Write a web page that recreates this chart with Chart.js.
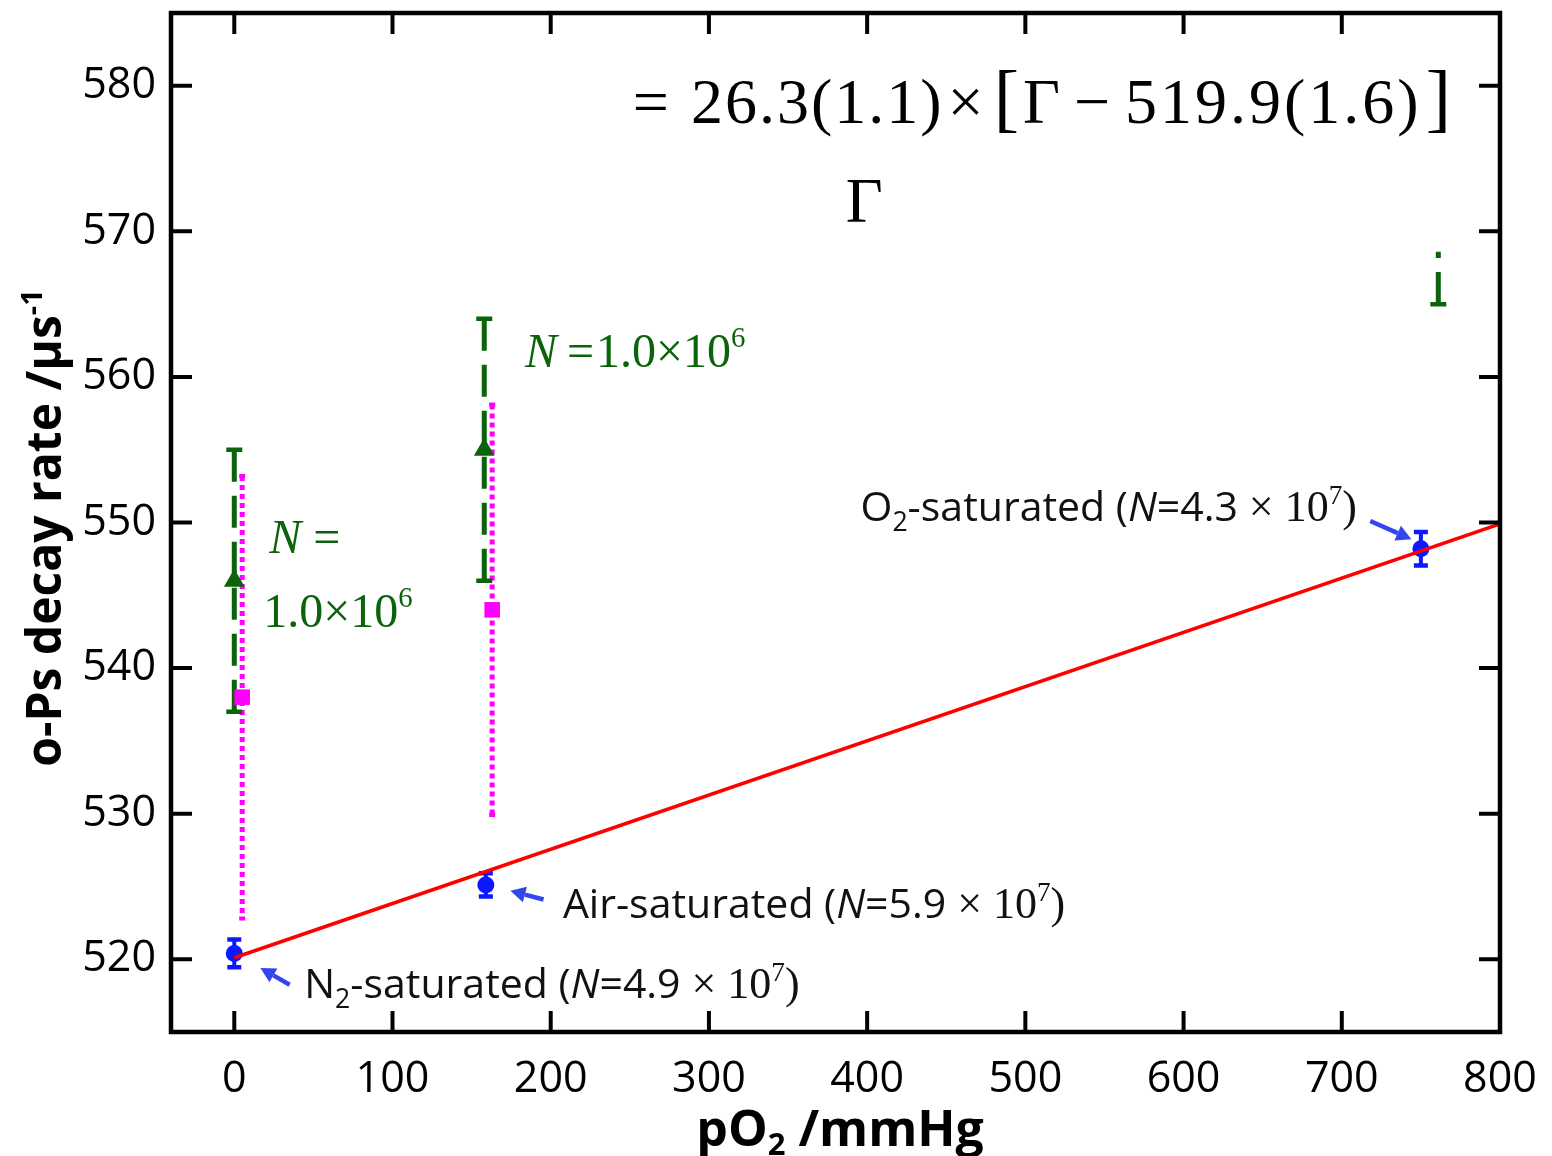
<!DOCTYPE html>
<html>
<head>
<meta charset="utf-8">
<script src="https://cdn.jsdelivr.net/npm/chart.js@4.4.1/dist/chart.umd.min.js"></script>
<style>
  html, body { margin: 0; padding: 0; background: #fff; }
  #wrap { width: 1552px; height: 1156px; }
</style>
</head>
<body>
<div id="wrap"><canvas id="c" width="1552" height="1156"></canvas></div>
<script>
// o-Ps decay rate against oxygen partial pressure

const xTickValues = [0, 100, 200, 300, 400, 500, 600, 700, 800];
const yTickValues = [520, 530, 540, 550, 560, 570, 580];

// long runs (N ~ 10^7): N2-, air- and O2-saturated water
const satX   = [0, 159, 750];
const satY   = [520.4, 525.1, 548.2];
const satErr = [0.95, 0.8, 1.15];

// short runs (N = 1.0e6), first analysis
const shortAX   = [0, 158, 761];
const shortAY   = [546, 555, 574];
const shortAErr = [9, 9, 9];

// short runs (N = 1.0e6), second analysis
const shortBX   = [5, 163];
const shortBY   = [538, 544];
const shortBErr = [15.2, 14.1];

// linear calibration line
const fitX = [0, 800];
const fitY = [520.1, 549.9];

const SANS = "'Open Sans', 'Noto Sans', sans-serif";
const SERIF = "'Liberation Serif', 'DejaVu Serif', serif";
const BLUE = '#0c18ff';
const GREEN = '#0b640b';
const MAGENTA = '#ff00ff';
const ARROW = '#3346ee';

const pts = (xs, ys) => xs.map((x, i) => ({ x, y: ys[i] }));

// draws a run of text pieces with their own fonts, spacing and vertical offsets
function richText(ctx, x, y, segs, color) {
  let cx = x;
  for (const s of segs) {
    ctx.font = s.f;
    ctx.letterSpacing = (s.ls || 0) + 'px';
    ctx.fillStyle = s.c || color;
    cx += s.gap || 0;
    ctx.fillText(s.t, cx, y + (s.dy || 0));
    cx += ctx.measureText(s.t).width;
  }
  ctx.letterSpacing = '0px';
  return cx;
}
function richWidth(ctx, segs) {
  let w = 0;
  for (const s of segs) {
    ctx.font = s.f;
    ctx.letterSpacing = (s.ls || 0) + 'px';
    w += (s.gap || 0) + ctx.measureText(s.t).width;
  }
  ctx.letterSpacing = '0px';
  return w;
}

function errorBars(ctx, xs_, ys_, xs, ys, errs, opt) {
  ctx.save();
  ctx.strokeStyle = opt.color;
  ctx.lineCap = 'butt';
  xs.forEach((xv, i) => {
    const px = xs_.getPixelForValue(xv);
    const top = ys_.getPixelForValue(ys[i] + errs[i]);
    const bot = ys_.getPixelForValue(ys[i] - errs[i]);
    ctx.lineWidth = opt.width;
    ctx.setLineDash(opt.dash || []);
    ctx.beginPath(); ctx.moveTo(px, top); ctx.lineTo(px, bot); ctx.stroke();
    ctx.setLineDash([]);
    ctx.lineWidth = opt.capWidth;
    ctx.beginPath();
    ctx.moveTo(px - opt.cap, top); ctx.lineTo(px + opt.cap, top);
    ctx.moveTo(px - opt.cap, bot); ctx.lineTo(px + opt.cap, bot);
    ctx.stroke();
  });
  ctx.restore();
}

function arrow(ctx, x0, y0, x1, y1) {
  const a = Math.atan2(y1 - y0, x1 - x0);
  const L = 15, W = 8;
  const bx = x1 - L * Math.cos(a), by = y1 - L * Math.sin(a);
  ctx.save();
  ctx.strokeStyle = ARROW; ctx.fillStyle = ARROW; ctx.lineWidth = 4.5;
  ctx.beginPath(); ctx.moveTo(x0, y0); ctx.lineTo(bx, by); ctx.stroke();
  ctx.beginPath();
  ctx.moveTo(x1, y1);
  ctx.lineTo(bx + W * Math.sin(a), by - W * Math.cos(a));
  ctx.lineTo(bx - W * Math.sin(a), by + W * Math.cos(a));
  ctx.closePath(); ctx.fill();
  ctx.restore();
}

const errorBarPlugin = {
  id: 'errorBars',
  beforeDatasetsDraw(chart) {
    const { ctx, scales: { x, y } } = chart;
    errorBars(ctx, x, y, shortBX, shortBY, shortBErr, { color: MAGENTA, width: 5, dash: [5, 4], cap: 3, capWidth: 4 });
    errorBars(ctx, x, y, shortAX, shortAY, shortAErr, { color: GREEN, width: 5, dash: [32, 14], cap: 8, capWidth: 4.5 });
    errorBars(ctx, x, y, satX, satY, satErr, { color: BLUE, width: 4, cap: 7, capWidth: 4.5 });
  }
};

const decorPlugin = {
  id: 'decor',
  afterDatasetsDraw(chart) {
    const { ctx, chartArea: a, scales: { x, y } } = chart;
    const X = v => x.getPixelForValue(v), Y = v => y.getPixelForValue(v);
    ctx.save();
    ctx.textBaseline = 'alphabetic';
    ctx.textAlign = 'left';

    // fit equation on its white panel
    ctx.fillStyle = '#fff';
    ctx.fillRect(X(244), Y(583.3), X(776) - X(244), Y(568.6) - Y(583.3));
    const F = 64;
    richText(ctx, X(251.9), Y(577.45), [
      { t: '=', f: `${F}px ${SERIF}` },
      { t: '26.3(1.1)', f: `${F}px ${SERIF}`, gap: 22, ls: 2 },
      { t: '\u00d7', f: `${F}px ${SERIF}`, gap: 4 },
      { t: '[', f: `${F + 12}px ${SERIF}`, gap: 10 },
      { t: '\u0393', f: `${F}px ${SERIF}`, gap: 4 },
      { t: '\u2212', f: `${F}px ${SERIF}`, gap: 14 },
      { t: '519.9(1.6)', f: `${F}px ${SERIF}`, gap: 15, ls: 3 },
      { t: ']', f: `${F + 12}px ${SERIF}`, gap: 4 }
    ], '#000');
    richText(ctx, X(386.4), Y(570.65), [{ t: '\u0393', f: `${F}px ${SERIF}` }], '#000');

    // sample-size notes for the short runs
    const G = 48;
    richText(ctx, X(22.1), Y(547.93), [
      { t: 'N', f: `italic ${G}px ${SERIF}` },
      { t: '=', f: `${G}px ${SERIF}`, gap: 12 }
    ], GREEN);
    richText(ctx, X(18.3), Y(542.79), [
      { t: '1.0\u00d710', f: `${G}px ${SERIF}` },
      { t: '6', f: `${G * 0.6}px ${SERIF}`, dy: -20 }
    ], GREEN);
    richText(ctx, X(183.7), Y(560.7), [
      { t: 'N', f: `italic ${G}px ${SERIF}` },
      { t: '=', f: `${G}px ${SERIF}`, gap: 10 },
      { t: '1.0\u00d710', f: `${G}px ${SERIF}`, gap: 2 },
      { t: '6', f: `${G * 0.6}px ${SERIF}`, dy: -20 }
    ], GREEN);

    // gas-saturation labels
    const S = 41, T = 44;
    const satLabel = (sub, pre, val, xv, yv) => {
      const segs = [];
      if (sub) {
        segs.push({ t: pre, f: `${S}px ${SANS}` });
        segs.push({ t: '2', f: `${S * 0.65}px ${SANS}`, dy: 10 });
        segs.push({ t: '-saturated (', f: `${S}px ${SANS}` });
      } else {
        segs.push({ t: pre + '-saturated (', f: `${S}px ${SANS}` });
      }
      segs.push({ t: 'N', f: `italic ${S}px ${SANS}` });
      segs.push({ t: '=' + val, f: `${S}px ${SANS}` });
      segs.push({ t: ' \u00d7 ', f: `${T}px ${SERIF}` });
      segs.push({ t: '10', f: `${T}px ${SERIF}` });
      segs.push({ t: '7', f: `${T * 0.62}px ${SERIF}`, dy: -17 });
      segs.push({ t: ')', f: `${T}px ${SERIF}` });
      richText(ctx, X(xv), Y(yv), segs, '#111');
    };
    satLabel(true, 'N', '4.9', 44.2, 517.32);
    satLabel(false, 'Air', '5.9', 207.7, 522.81);
    satLabel(true, 'O', '4.3', 395.8, 550.13);

    arrow(ctx, X(35), Y(518.25), X(16.5), Y(519.4));
    arrow(ctx, X(195.5), Y(524.1), X(174.5), Y(524.7));
    arrow(ctx, X(718), Y(550.1), X(744), Y(548.85));

    // frame with inward ticks on all four sides
    ctx.strokeStyle = '#000';
    ctx.lineWidth = 4;
    ctx.beginPath();
    const TL = 21;
    xTickValues.forEach(v => {
      const px = X(v);
      ctx.moveTo(px, a.bottom); ctx.lineTo(px, a.bottom - TL);
      ctx.moveTo(px, a.top); ctx.lineTo(px, a.top + TL);
    });
    yTickValues.forEach(v => {
      const py = Y(v);
      ctx.moveTo(a.left, py); ctx.lineTo(a.left + TL, py);
      ctx.moveTo(a.right, py); ctx.lineTo(a.right - TL, py);
    });
    ctx.stroke();
    ctx.lineWidth = 4.5;
    ctx.strokeRect(a.left, a.top, a.right - a.left, a.bottom - a.top);

    // axis titles
    ctx.fillStyle = '#000';
    const xt = [
      { t: 'pO', f: `bold 50px ${SANS}` },
      { t: '2', f: `bold 31px ${SANS}`, dy: 9 },
      { t: ' /mmHg', f: `bold 50px ${SANS}` }
    ];
    const xw = richWidth(ctx, xt);
    richText(ctx, 840 - xw / 2, 1146, xt, '#000');

    const yt = [
      { t: 'o-Ps decay rate /\u03bcs', f: `bold 48px ${SANS}` },
      { t: '-1', f: `bold 29px ${SANS}`, dy: -19 }
    ];
    const yw = richWidth(ctx, yt);
    ctx.translate(61, 528);
    ctx.rotate(-Math.PI / 2);
    richText(ctx, -yw / 2, 0, yt, '#000');
    ctx.restore();
  }
};

new Chart(document.getElementById('c'), {
  type: 'scatter',
  data: {
    datasets: [
      { label: 'fit', type: 'line', data: pts(fitX, fitY), borderColor: '#ff0000', borderWidth: 3.5,
        pointRadius: 0, fill: false, order: 0 },
      { label: 'saturated', data: pts(satX, satY), pointStyle: 'circle', pointRadius: 8.5,
        backgroundColor: BLUE, borderColor: BLUE, borderWidth: 0, order: 1 },
      { label: 'short A', data: pts(shortAX, shortAY), pointStyle: 'triangle', pointRadius: 12,
        backgroundColor: GREEN, borderColor: GREEN, borderWidth: 0, order: 2 },
      { label: 'short B', data: pts(shortBX, shortBY), pointStyle: 'rect', pointRadius: 11,
        backgroundColor: MAGENTA, borderColor: MAGENTA, borderWidth: 0, order: 3 }
    ]
  },
  options: {
    responsive: false,
    animation: false,
    devicePixelRatio: 1,
    layout: { padding: { top: 13, right: 52, left: 0, bottom: 0 } },
    plugins: { legend: { display: false }, tooltip: { enabled: false } },
    scales: {
      x: {
        type: 'linear', min: -40, max: 800,
        afterBuildTicks: s => { s.ticks = xTickValues.map(v => ({ value: v })); },
        afterFit: s => { s.height = 124; s.paddingLeft = 0; s.paddingRight = 0; },
        grid: { display: false, drawTicks: false },
        border: { display: false },
        ticks: { font: { family: SANS, size: 43 }, color: '#000', padding: 22, maxRotation: 0, autoSkip: false,
                 callback: v => String(v) }
      },
      y: {
        type: 'linear', min: 515, max: 585,
        afterBuildTicks: s => { s.ticks = yTickValues.map(v => ({ value: v })); },
        afterFit: s => { s.width = 171; s.paddingTop = 0; s.paddingBottom = 0; },
        grid: { display: false, drawTicks: false },
        border: { display: false },
        ticks: { font: { family: SANS, size: 43 }, color: '#000', padding: 15, autoSkip: false,
                 callback: v => String(v) }
      }
    }
  },
  plugins: [errorBarPlugin, decorPlugin]
});
</script>
</body>
</html>
